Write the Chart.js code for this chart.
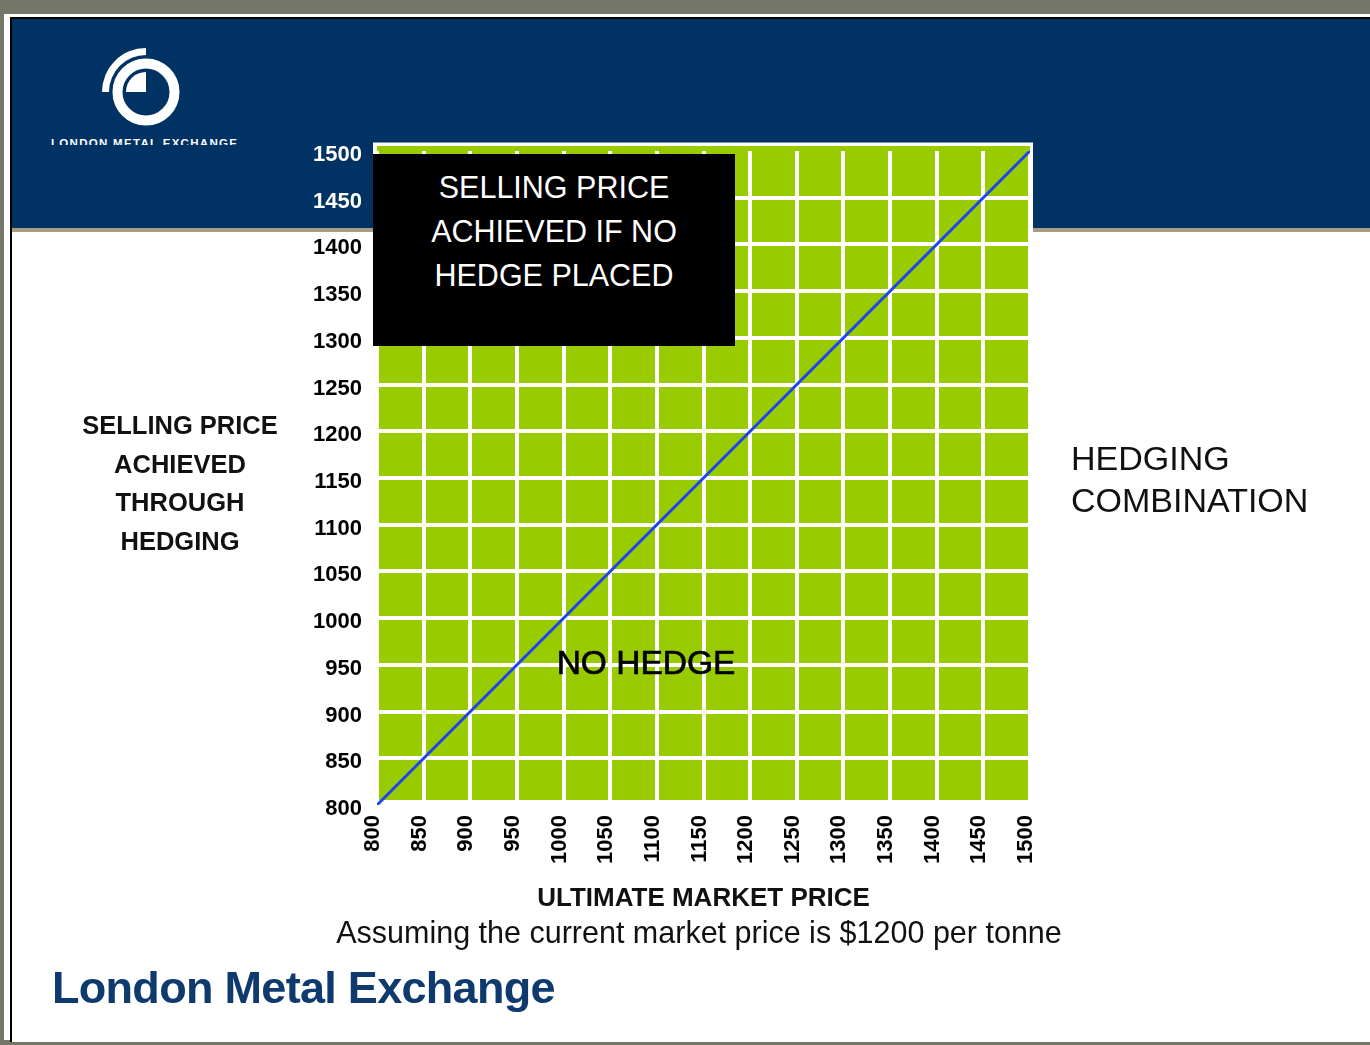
<!DOCTYPE html>
<html>
<head>
<meta charset="utf-8">
<script src="https://cdn.jsdelivr.net/npm/chart.js@4.4.1/dist/chart.umd.min.js"></script>
<style>
  html, body { margin: 0; padding: 0; }
  body { width: 1370px; height: 1045px; position: relative; overflow: hidden; background: #74766a; font-family: "Liberation Sans", Arial, sans-serif; }
  .frame { position: absolute; left: 4px; top: 14px; width: 1366px; height: 1026px; background: #fff; }
  .inner { position: absolute; left: 10px; top: 17px; right: 0; height: 1023px; border-left: 2px solid #000; border-top: 2px solid #000; background: #fff; }
  .band { position: absolute; left: 12px; top: 19px; width: 1358px; height: 209px; background: #003264; }
  .bandline { position: absolute; left: 12px; top: 228px; width: 1358px; height: 4px; background: #a89c85; }
  .logo-text { position: absolute; left: 51px; top: 136px; height: 9px; overflow: hidden; color: #fff; font-weight: bold; font-size: 11.5px; letter-spacing: 1.3px; line-height: 14px; white-space: nowrap; }
  canvas { position: absolute; left: 0; top: 0; z-index: 1; }
  .over { position: absolute; z-index: 2; white-space: nowrap; }
  .box { left: 373px; top: 154px; width: 362px; height: 192px; background: #000; color: #fff; font-size: 30.5px; line-height: 44px; text-align: center; padding-top: 11px; box-sizing: border-box; }
  .nohedge { left: 646px; top: 663px; transform: translate(-50%, -50%); font-size: 33.5px; color: #000; -webkit-text-stroke: 0.7px #000; }
  .ylabel { left: 180px; top: 406px; transform: translateX(-50%); font-weight: bold; font-size: 25.5px; line-height: 38.5px; text-align: center; color: #111; }
  .right { left: 1071px; top: 437px; font-size: 34px; line-height: 42px; color: #111; }
  .sub { left: 699px; top: 932px; transform: translate(-50%, -50%); font-size: 30.5px; color: #111; }
  .lme { left: 52px; top: 962px; font-weight: bold; font-size: 45px; letter-spacing: -0.7px; color: #0e3a6e; }
</style>
</head>
<body>
<div class="frame"></div>
<div class="inner"></div>
<div class="band"></div>
<div class="bandline"></div>
<svg width="220" height="140" style="position:absolute;left:0;top:0">
  <circle cx="146" cy="92" r="28.5" fill="none" stroke="#fff" stroke-width="10"/>
  <path d="M146 92 L146 72 A20 20 0 0 0 126 92 Z" fill="#fff"/>
  <path d="M102 92 A44 44 0 0 1 146 48 L146 55 A37 37 0 0 0 109 92 Z" fill="#fff"/>
</svg>
<div class="logo-text">LONDON METAL EXCHANGE</div>

<canvas id="chart" width="1370" height="1045"></canvas>

<div class="over box">SELLING PRICE<br>ACHIEVED IF NO<br>HEDGE PLACED</div>
<div class="over nohedge">NO HEDGE</div>
<div class="over ylabel">SELLING PRICE<br>ACHIEVED<br>THROUGH<br>HEDGING</div>
<div class="over right">HEDGING<br>COMBINATION</div>
<div class="over sub">Assuming the current market price is $1200 per tonne</div>
<div class="over lme">London Metal Exchange</div>

<script>
// market price (x) and selling price achieved with no hedge (y)
const marketPrice = [800, 1500];
const sellingPriceNoHedge = [800, 1500];
const tickValues = [800, 850, 900, 950, 1000, 1050, 1100, 1150, 1200, 1250, 1300, 1350, 1400, 1450, 1500];
const xTitle = "ULTIMATE MARKET PRICE";

const green = "#99cc00";
const fontFamily = "'Liberation Sans', Arial, sans-serif";

// green plot panel with white edge
const plotBackground = {
  id: "plotBackground",
  beforeDraw(chart) {
    const { ctx, chartArea: a } = chart;
    ctx.save();
    ctx.fillStyle = "#ffffff";
    ctx.fillRect(a.left - 4, a.top - 8.5, a.right - a.left + 7, a.bottom - a.top + 8.5);
    ctx.fillStyle = green;
    ctx.fillRect(a.left, a.top - 5, a.right - a.left, a.bottom - a.top);
    ctx.restore();
  },
};

const points = marketPrice.map((x, i) => ({ x: x, y: sellingPriceNoHedge[i] }));
const setTicks = (scale) => {
  scale.ticks = tickValues.map((v) => ({ value: v }));
};
const plainLabel = (value) => String(value);

new Chart(document.getElementById("chart"), {
  type: "scatter",
  data: {
    datasets: [
      {
        label: "No hedge",
        data: points,
        showLine: true,
        borderColor: "#1e44f2",
        borderWidth: 3,
        pointRadius: 0,
      },
    ],
  },
  options: {
    responsive: false,
    animation: false,
    devicePixelRatio: 1,
    layout: { padding: { top: 151, right: 340, bottom: 131, left: 0 } },
    plugins: { legend: { display: false }, tooltip: { enabled: false } },
    scales: {
      x: {
        type: "linear",
        min: 800,
        max: 1500,
        afterBuildTicks: setTicks,
        afterFit: (scale) => {
          scale.height = 109;
        },
        grid: { color: "#ffffff", lineWidth: 4, drawTicks: false },
        border: { display: false },
        ticks: {
          autoSkip: false,
          minRotation: 90,
          maxRotation: 90,
          padding: 10,
          labelOffset: -4,
          color: "#000",
          callback: plainLabel,
          font: { family: fontFamily, size: 22, weight: "bold" },
        },
        title: {
          display: true,
          text: xTitle,
          color: "#111",
          padding: { top: 0, bottom: 0 },
          font: { family: fontFamily, size: 26, weight: "bold" },
        },
      },
      y: {
        type: "linear",
        min: 800,
        max: 1500,
        afterBuildTicks: setTicks,
        afterFit: (scale) => {
          scale.width = 377;
        },
        grid: {
          color: (c) => (c.tick && c.tick.value === 1500 ? "rgba(0,0,0,0)" : "#ffffff"),
          lineWidth: 4,
          drawTicks: false,
        },
        border: { display: false },
        ticks: {
          padding: 15,
          labelOffset: 4,
          color: (c) => (c.tick && c.tick.value >= 1450 ? "#ffffff" : "#000000"),
          callback: plainLabel,
          font: { family: fontFamily, size: 22, weight: "bold" },
        },
      },
    },
  },
  plugins: [plotBackground],
});
</script>
</body>
</html>
